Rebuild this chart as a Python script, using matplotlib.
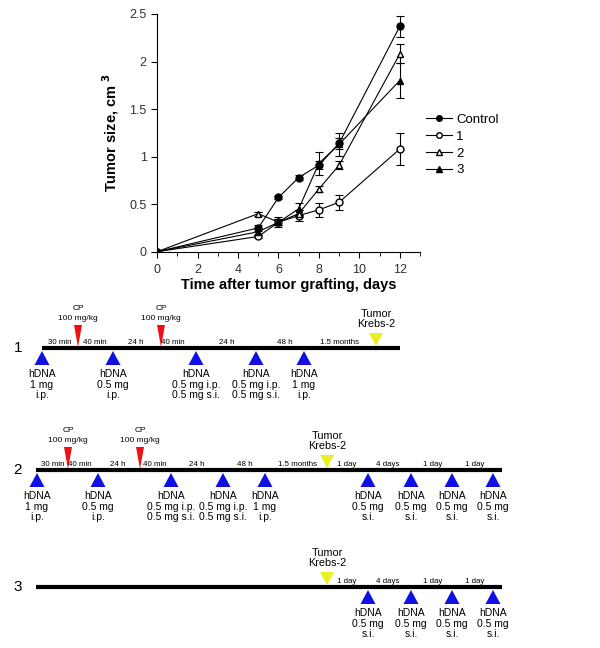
import numpy as np
import matplotlib.pyplot as plt

plt.rcParams['font.family'] = ['Liberation Sans', 'DejaVu Sans']

# tumour growth curves
days = [0, 5, 6, 7, 8, 9, 12]
control = [0, 0.25, 0.57, 0.78, 0.91, 1.14, 2.37]
control_err = [0, 0.03, 0.02, 0.03, 0.04, 0.06, 0.11]
grp1 = [0, 0.16, 0.31, 0.38, 0.44, 0.52, 1.08]
grp1_err = [0, 0.02, 0.03, 0.06, 0.07, 0.08, 0.17]
grp2 = [0, 0.40, 0.31, 0.40, 0.66, 0.91, 2.08]
grp2_err = [0, 0.02, 0.03, 0.04, 0.03, 0.04, 0.10]
grp3 = [0, 0.21, 0.31, 0.45, 0.93, 1.13, 1.80]
grp3_err = [0, 0.03, 0.05, 0.06, 0.12, 0.12, 0.18]

# treatment schemes (positions along each bar, figure pixels)
s1_hdna_x = [42, 113, 196, 256, 304]
s1_hdna_lbl = ["hDNA\n1 mg\ni.p.", "hDNA\n0.5 mg\ni.p.", "hDNA\n0.5 mg i.p.\n0.5 mg s.i.",
               "hDNA\n0.5 mg i.p.\n0.5 mg s.i.", "hDNA\n1 mg\ni.p."]
s1_cp_x = [78, 161]
s1_tumor_x = 376
s1_gap_x = [60, 95, 136, 173, 227, 285, 340]
s1_gap_lbl = ["30 min", "40 min", "24 h", "40 min", "24 h", "48 h", "1.5 months"]

s2_hdna_x = [37, 98, 171, 223, 265, 368, 411, 452, 493]
s2_hdna_lbl = s1_hdna_lbl + ["hDNA\n0.5 mg\ns.i."] * 4
s2_cp_x = [68, 140]
s2_tumor_x = 327
s2_gap_x = [53, 80, 118, 155, 197, 245, 297, 347, 388, 433, 475]
s2_gap_lbl = s1_gap_lbl + ["1 day", "4 days", "1 day", "1 day"]

s3_hdna_x = [368, 411, 452, 493]
s3_hdna_lbl = ["hDNA\n0.5 mg\ns.i."] * 4
s3_tumor_x = 327
s3_gap_x = [347, 388, 433, 475]
s3_gap_lbl = ["1 day", "4 days", "1 day", "1 day"]

fig = plt.figure(figsize=(6, 6.48), dpi=100)

# ---- growth plot ----
ax = fig.add_axes([0.262, 0.6116, 0.438, 0.3668])
series = [(control, control_err, 'o', 'black', 'Control'),
          (grp1, grp1_err, 'o', 'white', '1'),
          (grp2, grp2_err, '^', 'white', '2'),
          (grp3, grp3_err, '^', 'black', '3')]
for y, e, m, fc, lbl in series:
    ax.errorbar(days, y, yerr=e, marker=m, ms=5, mfc=fc, mec='black', color='black',
                lw=0.8, elinewidth=0.8, capsize=3, capthick=0.8, label=lbl)

ax.set_xlim(0, 13)
ax.set_ylim(0, 2.5)
ax.set_xticks(range(0, 13, 2))
ax.set_xticks(range(0, 14), minor=True)
ax.set_yticks(np.arange(0, 2.51, 0.5))
ax.set_yticklabels(['0', '0.5', '1', '1.5', '2', '2.5'])
ax.spines['top'].set_visible(False)
ax.spines['right'].set_visible(False)
ax.tick_params(which='major', direction='out', length=4, labelsize=9, colors='black', labelcolor='#333333')
ax.tick_params(axis='x', which='major', pad=5)
ax.tick_params(which='minor', direction='out', length=3)
ax.set_xlabel('Time after tumor grafting, days', fontsize=10.5, fontweight='bold', labelpad=1)
ax.set_ylabel(r'Tumor size, cm $^{\mathbf{3}}$', fontsize=10.5, fontweight='bold', labelpad=6)

handles, labels = ax.get_legend_handles_labels()
handles = [h[0] for h in handles]
fig.legend(handles, labels, loc='upper left', bbox_to_anchor=(0.69, 0.843), frameon=False,
           fontsize=9.5, handlelength=2.0, handletextpad=0.3, labelspacing=0.35,
           markerscale=0.8)

# ---- schemes ----
sx = fig.add_axes([0, 0, 1, 1], zorder=-1)
sx.set_xlim(0, 600)
sx.set_ylim(648, 0)
sx.axis('off')

blue = '#1010e0'
red = '#ee1111'
yellow = '#e8f020'


def scheme(num, bar_y, x0, x1, hdna_x, hdna_lbl, cp_x, tumor_x, gap_x, gap_lbl):
    sx.plot([x0, x1], [bar_y, bar_y], color='black', lw=3, solid_capstyle='butt')
    sx.text(18, bar_y, num, fontsize=11, ha='center', va='center')
    for x, lbl in zip(hdna_x, hdna_lbl):
        sx.fill([x - 7.5, x + 7.5, x], [bar_y + 17, bar_y + 17, bar_y + 3], color=blue, lw=0)
        sx.text(x, bar_y + 21, lbl, fontsize=7.5, ha='center', va='top', linespacing=1.08)
    for x in cp_x:
        sx.fill([x - 4, x + 4, x], [bar_y - 23, bar_y - 23, bar_y - 1], color=red, lw=0)
        sx.text(x, bar_y - 26, "CP\n100 mg/kg", fontsize=6, ha='center', va='bottom', linespacing=1.5)
    sx.fill([tumor_x - 7, tumor_x + 7, tumor_x], [bar_y - 15, bar_y - 15, bar_y - 2], color=yellow, lw=0)
    sx.text(tumor_x, bar_y - 19, "Tumor\nKrebs-2", fontsize=7.8, ha='center', va='bottom', linespacing=1.0)
    for x, lbl in zip(gap_x, gap_lbl):
        sx.text(x, bar_y - 2, lbl, fontsize=5.7, ha='center', va='bottom')


scheme('1', 348, 42, 400, s1_hdna_x, s1_hdna_lbl, s1_cp_x, s1_tumor_x, s1_gap_x, s1_gap_lbl)
scheme('2', 470, 36, 502, s2_hdna_x, s2_hdna_lbl, s2_cp_x, s2_tumor_x, s2_gap_x, s2_gap_lbl)
scheme('3', 587, 36, 502, s3_hdna_x, s3_hdna_lbl, [], s3_tumor_x, s3_gap_x, s3_gap_lbl)

fig.savefig('out.png', dpi=100)
